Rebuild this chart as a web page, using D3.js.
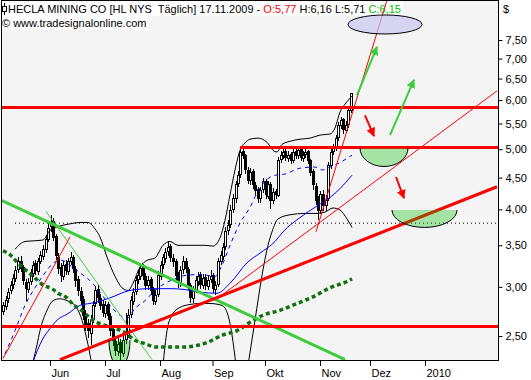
<!DOCTYPE html>
<html><head><meta charset="utf-8">
<script src="https://cdn.jsdelivr.net/npm/d3@7"></script>
<style>body{margin:0;background:#fff}svg{display:block;font-family:"Liberation Sans",Arial,sans-serif}</style>
</head><body><svg id="c" width="531" height="380"></svg>
<script>
// ---- daily candles, trading-day index 0 = 1 May 2009 ... 139 = 17 Nov 2009
const openP = [2.74,2.79,2.87,2.96,3.03,3.10,3.20,3.30,3.22,3.05,
2.97,3.06,3.15,3.27,3.18,3.30,3.36,3.45,3.58,3.75,
3.83,3.62,3.35,3.22,3.12,3.26,3.18,3.30,3.35,3.20,
3.08,2.95,2.86,2.71,2.62,2.52,2.66,2.82,2.97,2.87,
2.81,2.72,2.81,2.69,2.56,2.45,2.36,2.44,2.34,2.47,
2.50,2.71,2.84,2.95,3.08,3.12,3.22,3.12,3.01,3.08,
2.97,2.84,2.92,3.12,3.26,3.33,3.42,3.48,3.33,3.30,
3.12,3.04,3.20,3.30,3.20,3.01,2.87,2.97,3.06,3.13,
3.02,3.11,3.00,3.08,3.13,2.97,3.03,3.30,3.36,3.48,
3.70,3.78,4.00,4.16,4.40,4.56,4.96,4.88,4.62,4.45,
4.60,4.37,4.30,4.16,4.30,4.44,4.20,4.39,4.13,4.27,
4.21,4.82,4.88,4.95,4.83,4.90,4.79,4.95,4.88,4.99,
4.83,4.90,4.95,4.79,4.60,4.36,4.15,3.98,4.23,4.05,
4.16,4.70,4.95,5.03,5.22,5.46,5.58,5.36,5.48,5.77];
const highP = [2.84,2.90,2.99,3.07,3.15,3.24,3.35,3.36,3.25,3.09,
3.10,3.21,3.30,3.32,3.34,3.43,3.50,3.63,3.80,3.92,
3.87,3.65,3.40,3.28,3.30,3.31,3.34,3.42,3.38,3.24,
3.12,3.00,2.90,2.75,2.66,2.70,2.85,3.01,3.02,2.92,
2.86,2.85,2.84,2.72,2.60,2.49,2.48,2.47,2.52,2.72,
2.76,2.90,2.99,3.12,3.19,3.27,3.27,3.16,3.12,3.11,
3.00,2.96,3.18,3.30,3.39,3.47,3.56,3.52,3.39,3.33,
3.17,3.24,3.37,3.34,3.23,3.04,3.01,3.12,3.17,3.17,
3.15,3.15,3.12,3.19,3.16,3.07,3.34,3.43,3.53,3.74,
3.84,4.06,4.24,4.45,4.62,5.02,5.03,4.92,4.68,4.66,
4.64,4.42,4.34,4.35,4.50,4.47,4.45,4.43,4.33,4.32,
4.86,4.96,5.02,5.00,4.96,4.95,5.01,5.01,5.05,5.03,
4.96,5.02,4.99,4.83,4.65,4.41,4.21,4.28,4.30,4.22,
4.77,5.00,5.09,5.28,5.54,5.64,5.62,5.55,5.83,6.16];
const lowP = [2.70,2.75,2.83,2.92,2.98,3.05,3.16,3.17,3.02,2.85,
2.93,3.02,3.11,3.14,3.14,3.26,3.31,3.40,3.54,3.68,
3.55,3.32,3.15,3.06,3.08,3.13,3.14,3.25,3.16,3.00,
2.90,2.80,2.65,2.55,2.48,2.42,2.62,2.78,2.83,2.75,
2.68,2.67,2.65,2.50,2.41,2.32,2.32,2.29,2.31,2.43,
2.48,2.67,2.80,2.91,3.03,3.08,3.08,2.97,2.96,2.91,
2.80,2.80,2.89,3.08,3.21,3.28,3.37,3.29,3.23,3.08,
2.99,3.00,3.15,3.16,2.97,2.83,2.83,2.93,3.01,2.98,
2.98,2.96,2.96,3.04,2.93,2.91,3.00,3.25,3.31,3.44,
3.64,3.73,3.95,4.10,4.34,4.50,4.82,4.56,4.39,4.38,
4.31,4.22,4.10,4.10,4.25,4.15,4.16,4.00,4.08,4.15,
4.18,4.75,4.82,4.78,4.77,4.74,4.75,4.83,4.83,4.78,
4.77,4.84,4.74,4.52,4.30,4.06,3.84,3.93,3.98,3.98,
4.12,4.65,4.89,4.97,5.16,5.38,5.30,5.31,5.42,5.71];
const closeP = [2.80,2.85,2.94,3.02,3.09,3.19,3.29,3.21,3.07,2.98,
3.05,3.16,3.25,3.19,3.29,3.37,3.44,3.57,3.73,3.81,
3.60,3.37,3.21,3.13,3.25,3.19,3.29,3.34,3.21,3.07,
2.96,2.85,2.70,2.60,2.55,2.65,2.80,2.96,2.88,2.80,
2.73,2.80,2.70,2.55,2.46,2.37,2.42,2.35,2.46,2.51,
2.70,2.85,2.94,3.07,3.13,3.21,3.13,3.02,3.07,2.96,
2.85,2.91,3.13,3.25,3.34,3.41,3.47,3.34,3.29,3.13,
3.05,3.19,3.29,3.21,3.02,2.88,2.96,3.07,3.12,3.03,
3.10,3.01,3.07,3.12,2.98,3.02,3.29,3.37,3.47,3.68,
3.77,3.99,4.17,4.38,4.54,4.94,4.89,4.63,4.46,4.59,
4.38,4.29,4.17,4.29,4.43,4.22,4.38,4.14,4.26,4.22,
4.80,4.89,4.94,4.84,4.89,4.80,4.94,4.89,4.98,4.84,
4.89,4.94,4.80,4.59,4.38,4.14,3.99,4.22,4.06,4.14,
4.71,4.94,5.02,5.21,5.47,5.57,5.37,5.47,5.78,6.15];

// ---- axes
const monthIdx = [20,42,64,85,106,128,148,170];
const monthLabels = ["Jun","Jul","Aug","Sep","Okt","Nov","Dez","2010"];
const yTicks = [2.5,3,3.5,4,4.5,5,5.5,6,6.5,7,7.5];

// ---- indicators [index, price]
const upperBand = [[4.8,3.45],[8.8,3.55],[12.8,3.56],[16,3.57],[18.8,3.70],[22.8,3.76],[26.8,3.79],[30.8,3.81],[34,3.81],[36.8,3.72],[38.8,3.61],[41.6,3.35],[44.8,3.12],[48,2.98],[50,2.96],[52,3.04],[54.8,3.23],[57.6,3.31],[60.8,3.34],[64,3.50],[66.8,3.55],[70,3.50],[74.8,3.50],[80.8,3.50],[84,3.49],[86.8,3.60],[88.8,3.84],[90.8,4.22],[92.8,4.63],[94.8,4.98],[96.8,5.12],[98.8,5.19],[102,5.21],[105.6,5.13],[108,4.98],[109.6,4.95],[111.6,5.09],[114.8,5.15],[118.8,5.19],[122.8,5.21],[126.8,5.27],[130.8,5.29],[132.8,5.41],[134.8,5.74],[136.8,5.91],[139.6,6.09]];
const lowerBand = [[12,2.27],[13.6,2.42],[14.8,2.55],[17.6,2.75],[20,2.85],[22.8,2.87],[25.6,2.85],[28.8,2.80],[31.6,2.65],[34,2.42],[35.6,2.24],null,
[64,2.24],[65.6,2.55],[67.6,2.70],[70.8,2.78],[74.8,2.81],[78.8,2.82],[82.8,2.82],[87.6,2.80],[90,2.70],[91.6,2.51],[93.2,2.24],null,
[98,2.24],[100.8,2.65],[103.6,3.13],[106,3.50],[107.6,3.68],[110,3.86],[114.8,3.92],[120.8,3.94],[125.6,3.94],[128.8,3.96],[132,4.02],[134.8,3.99],[137.6,3.86],[139.6,3.74]];
const maSolid = [[12,2.27],[15.6,2.46],[18.8,2.57],[22,2.66],[25.6,2.71],[30.8,2.80],[36.8,2.83],[42.8,2.88],[50.8,2.96],[58.8,2.98],[66.8,2.98],[72.8,2.97],[78.8,2.94],[85.6,2.93],[90.8,3.04],[97.6,3.28],[102.8,3.40],[108.8,3.55],[112,3.68],[118.8,3.88],[125.6,4.05],[130.8,4.18],[134.8,4.32],[139.6,4.54]];
const maDashed = [[0.8,2.34],[4.8,2.55],[8.8,2.80],[12.8,2.99],[16.8,3.16],[20.8,3.29],[23.6,3.31],[26.8,3.25],[30.8,3.16],[34.8,3.07],[38.8,2.94],[42.8,2.80],[46.8,2.70],[49.6,2.67],[52.8,2.77],[56.8,2.85],[60.8,2.96],[64.8,3.04],[68.8,3.09],[72.8,3.13],[78.8,3.14],[84.8,3.12],[87.6,3.25],[90.8,3.50],[94.8,3.80],[98.8,4.03],[102,4.28],[105.6,4.47],[108.8,4.54],[112.8,4.56],[118.8,4.66],[124.8,4.68],[127.6,4.63],[130.8,4.68],[134.8,4.76],[139.6,4.89]];
const maLong = [[0,3.43],[2.8,3.38],[5.6,3.29],[8,3.22],[10.8,3.15],[13.6,3.08],[16,3.02],[19.6,2.98],[22,2.93],[25.6,2.88],[28,2.81],[30.8,2.76],[33.6,2.70],[36,2.65],[39.6,2.61],[44,2.58],[48.8,2.53],[52.8,2.46],[56.8,2.43],[60.8,2.40],[66.8,2.40],[72,2.40],[76.8,2.41],[81.6,2.44],[88,2.51],[93.6,2.55],[98.8,2.63],[104,2.70],[110.8,2.75],[117.6,2.82],[124,2.89],[130.8,2.99],[137.6,3.06],[139.6,3.09]];

// ---- drawn analysis objects [index, price]
const greenThick = [[-0.8,4.14],[136.8,2.29]];
const greenThin = [[17.2,3.97],[59.6,2.29]];
const redThick = [[22.8,2.29],[197.6,4.35]];
const redThin = [[85.6,2.87],[197.6,6.21]];
const redSteep = [[125.2,3.68],[153.6,8.70]];
const redEarly = [[0,2.30],[26.8,3.61]];
const levelPrices = [5.84,5.04,2.59];
const levelStart = [-0.8,94.8,-0.8];
const dottedLevel = [[4.8,3.80],[198,3.80]];
const greenArrows = [[[141.6,6.11],[149.6,7.31]],[[154.8,5.27],[164.4,6.47]]];
const redArrows = [[[144.8,5.67],[148.4,5.25]],[[157.2,4.51],[160.4,4.17]]];
const halfDisks = [[142.8,162,5.02,4.69],[155.6,181.6,3.99,3.74],[42.4,50.8,2.46,2.23]];
const targetZone = [138,167.6,8.23,7.67];

// ---- drawing
const svg = d3.select("#c");
const x = d3.scaleLinear().domain([-0.8,198]).range([1,498]);
const xTick = d3.scaleLinear().domain([-0.8,198]).range([-2,495]);
const y = d3.scaleLog().domain([2.2866,8.7005]).range([360,0]);

const defs = svg.append("defs");
defs.append("clipPath").attr("id","clip").append("rect").attr("x",2).attr("y",1).attr("width",496).attr("height",359);
function marker(id,col){
  defs.append("marker").attr("id",id).attr("viewBox","0 0 10 10").attr("refX",9).attr("refY",5)
   .attr("markerWidth",9).attr("markerHeight",9).attr("markerUnits","userSpaceOnUse").attr("orient","auto")
   .append("path").attr("d","M0,0 L10,5 L0,10 Z").attr("fill",col);
}
marker("ahg","#3ccc3c"); marker("ahr","#ff0000");

svg.append("rect").attr("width",531).attr("height",380).attr("fill","#fff");
svg.append("rect").attr("x",1.5).attr("y",0.5).attr("width",497).attr("height",360).attr("fill","#f4f4f4").attr("stroke","#000");

// title (under the plot drawings)
const titleG = svg.append("g");
const bg1 = titleG.append("rect").attr("fill","#fff");
const bg2 = titleG.append("rect").attr("fill","#fff");
const t1 = titleG.append("text").attr("x",8).attr("y",13).attr("font-size",11);
t1.append("tspan").attr("fill","#000").text("HECLA MINING CO [HL NYS\u00a0 Täglich] 17.11.2009 - ");
t1.append("tspan").attr("fill","#ff0000").text("O:5,77");
t1.append("tspan").attr("fill","#000").text(" H:6,16 L:5,71 ");
t1.append("tspan").attr("fill","#00c000").text("C:6,15");
const t2 = titleG.append("text").attr("x",2).attr("y",27).attr("font-size",11).attr("fill","#000").text("© www.tradesignalonline.com");
const b1 = t1.node().getBBox(), b2 = t2.node().getBBox();
bg1.attr("x",2).attr("y",1).attr("width",b1.x+b1.width).attr("height",15);
bg2.attr("x",2).attr("y",16).attr("width",b2.x+b2.width).attr("height",14);
titleG.append("line").attr("x1",4.5).attr("x2",4.5).attr("y1",3).attr("y2",15).attr("stroke","#000");
titleG.append("rect").attr("x",2.5).attr("y",6.5).attr("width",4).attr("height",5).attr("fill","#fff").attr("stroke","#000");

const g = svg.append("g").attr("clip-path","url(#clip)");
const lineGen = d3.line().defined(d=>d!==null).x(d=>x(d[0])).y(d=>y(d[1]));
const smooth = d3.line().defined(d=>d!==null).x(d=>x(d[0])).y(d=>y(d[1])).curve(d3.curveMonotoneX);

// candles
const idx = d3.range(closeP.length);
const cg = g.append("g").attr("shape-rendering","crispEdges");
cg.selectAll("line").data(idx).join("line")
  .attr("x1",i=>Math.round(x(i))+0.5).attr("x2",i=>Math.round(x(i))+0.5)
  .attr("y1",i=>y(highP[i])).attr("y2",i=>y(lowP[i])).attr("stroke","#000");
cg.selectAll("rect").data(idx).join("rect")
  .attr("x",i=>Math.round(x(i))-0.5).attr("width",2)
  .attr("y",i=>Math.min(y(openP[i]),y(closeP[i])))
  .attr("height",i=>Math.max(1,Math.abs(y(openP[i])-y(closeP[i]))))
  .attr("fill",i=>closeP[i]>=openP[i]?"#fff":"#000").attr("stroke","#000");

// bands & averages
g.append("path").datum(upperBand).attr("d",smooth).attr("fill","none").attr("stroke","#000").attr("stroke-width",1);
g.append("path").datum(lowerBand).attr("d",smooth).attr("fill","none").attr("stroke","#000").attr("stroke-width",1);
g.append("path").datum(maSolid).attr("d",smooth).attr("fill","none").attr("stroke","#0000ff").attr("stroke-width",1);
g.append("path").datum(maDashed).attr("d",smooth).attr("fill","none").attr("stroke","#0000ff").attr("stroke-width",1).attr("stroke-dasharray","4,4");
g.append("path").datum(maLong).attr("d",smooth).attr("fill","none").attr("stroke","#107010").attr("stroke-width",3.5).attr("stroke-dasharray","4,3");

// dotted level
g.append("path").datum(dottedLevel).attr("d",lineGen).attr("stroke","#000").attr("stroke-width",1).attr("stroke-dasharray","1,3");

// trend lines
g.append("path").datum(greenThick).attr("d",lineGen).attr("stroke","#3ccc3c").attr("stroke-width",3);
g.append("path").datum(greenThin).attr("d",lineGen).attr("stroke","#3ccc3c").attr("stroke-width",1);
g.append("path").datum(redThick).attr("d",lineGen).attr("stroke","#ff0000").attr("stroke-width",3);
g.append("path").datum(redThin).attr("d",lineGen).attr("stroke","#ff0000").attr("stroke-width",1);
g.append("path").datum(redSteep).attr("d",lineGen).attr("stroke","#ff0000").attr("stroke-width",1);
g.append("path").datum(redEarly).attr("d",lineGen).attr("stroke","#ff0000").attr("stroke-width",1);
levelPrices.forEach((p,k)=>{
  g.append("line").attr("x1",x(levelStart[k])).attr("x2",x(198)).attr("y1",Math.round(y(p))+0.5).attr("y2",Math.round(y(p))+0.5)
   .attr("stroke","#ff0000").attr("stroke-width",3);
});

// arrows
greenArrows.forEach(a=>{
  g.append("line").attr("x1",x(a[0][0])).attr("y1",y(a[0][1])).attr("x2",x(a[1][0])).attr("y2",y(a[1][1]))
   .attr("stroke","#3ccc3c").attr("stroke-width",2).attr("marker-end","url(#ahg)");
});
redArrows.forEach(a=>{
  g.append("line").attr("x1",x(a[0][0])).attr("y1",y(a[0][1])).attr("x2",x(a[1][0])).attr("y2",y(a[1][1]))
   .attr("stroke","#ff0000").attr("stroke-width",2).attr("marker-end","url(#ahr)");
});

// half disks
halfDisks.forEach(h=>{
  const x0=x(h[0]), x1=x(h[1]), t=y(h[2]), b=y(h[3]);
  const rx=(x1-x0)/2, ry=b-t;
  g.append("path").attr("d",`M${x0},${t} A${rx},${ry} 0 0 0 ${x1},${t} Z`).attr("fill","rgb(0,193,0)").attr("fill-opacity",0.32);
  g.append("path").attr("d",`M${x0},${t} A${rx},${ry} 0 0 0 ${x1},${t}`).attr("fill","none").attr("stroke","#000").attr("stroke-width",1);
});

// target ellipse
{
  const x0=x(targetZone[0]), x1=x(targetZone[1]), t=y(targetZone[2]), b=y(targetZone[3]);
  g.append("ellipse").attr("cx",(x0+x1)/2).attr("cy",(t+b)/2).attr("rx",(x1-x0)/2).attr("ry",(b-t)/2)
   .attr("fill","#c8c8f0").attr("fill-opacity",0.7).attr("stroke","#000").attr("stroke-width",1);
}

// y axis
const ya = svg.append("g").attr("transform","translate(498.5,0)")
  .call(d3.axisRight(y).tickValues(yTicks).tickSize(4).tickPadding(3).tickFormat(d=>d3.format(".2f")(d).replace(".",",")));
ya.select(".domain").remove();
ya.selectAll("text").attr("font-size",11).attr("font-family","Liberation Sans, Arial, sans-serif").attr("fill","#000");
ya.selectAll("line").attr("stroke","#000");

// x axis
const xa = svg.append("g").attr("transform","translate(0,361)")
  .call(d3.axisBottom(xTick).tickValues(monthIdx).tickSize(5).tickFormat((d,i)=>monthLabels[i]));
xa.select(".domain").remove();
xa.selectAll("text").attr("font-size",11).attr("font-family","Liberation Sans, Arial, sans-serif").attr("fill","#000")
  .attr("text-anchor","start").attr("x",1).attr("y",16).attr("dy",0);
xa.selectAll("line").attr("stroke","#000");

svg.append("text").attr("x",503).attr("y",13).attr("font-size",11).text("$");
</script></body></html>
